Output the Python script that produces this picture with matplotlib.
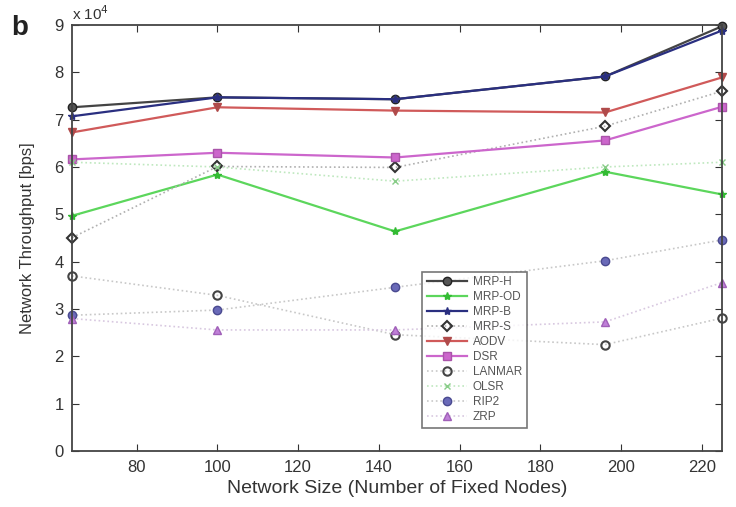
import matplotlib
matplotlib.use("Agg")
import matplotlib.pyplot as plt

plt.rcParams['font.family'] = ['Liberation Sans', 'DejaVu Sans']

nodes = [64, 100, 144, 196, 225]
mrp_h = [7.26, 7.47, 7.43, 7.91, 8.97]
mrp_od = [4.97, 5.84, 4.64, 5.90, 5.42]
mrp_b = [7.07, 7.47, 7.43, 7.91, 8.88]
mrp_s = [4.51, 6.01, 5.99, 6.86, 7.60]
aodv = [6.73, 7.26, 7.19, 7.15, 7.89]
dsr = [6.16, 6.30, 6.20, 6.56, 7.27]
lanmar = [3.70, 3.29, 2.46, 2.25, 2.81]
olsr = [6.10, 6.00, 5.70, 6.00, 6.10]
rip2 = [2.87, 2.98, 3.46, 4.02, 4.46]
zrp = [2.80, 2.56, 2.56, 2.73, 3.56]

labels = ['MRP-H', 'MRP-OD', 'MRP-B', 'MRP-S', 'AODV', 'DSR', 'LANMAR', 'OLSR', 'RIP2', 'ZRP']
xticks = [80, 100, 120, 140, 160, 180, 200, 220]
yticks = list(range(0, 10))

fig = plt.figure(figsize=(7.36, 5.07), dpi=100)
ax = fig.add_axes([0.098, 0.110, 0.883, 0.841])

kw = dict(clip_on=False)
ax.plot(nodes, mrp_h, '-', color='#444444', lw=1.6, marker='o', ms=6, mfc='#555555', mec='#222222', label=labels[0], **kw)
ax.plot(nodes, mrp_od, '-', color='#5cd65c', lw=1.6, marker='*', ms=6, mfc='#33bb33', mec='#33bb33', label=labels[1], **kw)
ax.plot(nodes, mrp_b, '-', color='#2a2f80', lw=1.6, marker='*', ms=6, mfc='#2a2f80', mec='#2a2f80', label=labels[2], **kw)
ax.plot(nodes, mrp_s, ':', color='#b0b0b0', lw=1.2, marker='D', ms=5, mfc='none', mec='#333333', mew=1.5, label=labels[3], **kw)
ax.plot(nodes, aodv, '-', color='#d05a5a', lw=1.6, marker='v', ms=6, mfc='#b04a4a', mec='#b04a4a', label=labels[4], **kw)
ax.plot(nodes, dsr, '-', color='#cc66cc', lw=1.6, marker='s', ms=6, mfc='#cc66cc', mec='#aa55aa', label=labels[5], **kw)
ax.plot(nodes, lanmar, ':', color='#c8c8c8', lw=1.2, marker='o', ms=6, mfc='none', mec='#444444', mew=1.5, label=labels[6], **kw)
ax.plot(nodes, olsr, ':', color='#bfe8bf', lw=1.2, marker='x', ms=5, mfc='#88cc88', mec='#88cc88', label=labels[7], **kw)
ax.plot(nodes, rip2, ':', color='#c8c8c8', lw=1.2, marker='o', ms=6, mfc='#6a6ab8', mec='#4a4a90', label=labels[8], **kw)
ax.plot(nodes, zrp, ':', color='#d8c8e0', lw=1.2, marker='^', ms=6, mfc='#c080d8', mec='#a060b8', label=labels[9], **kw)

ax.set_xlim(64, 225)
ax.set_ylim(0, 9)
ax.set_xticks(xticks)
ax.set_yticks(yticks)
ax.tick_params(direction='in', top=True, right=True, labelsize=12, colors='#333333', length=5, pad=6)
for s in ax.spines.values():
    s.set_color('#444444')
    s.set_linewidth(1.3)

ax.set_xlabel('Network Size (Number of Fixed Nodes)', fontsize=14, color='#333333', labelpad=4)
ax.set_ylabel('Network Throughput [bps]', fontsize=12, color='#333333', labelpad=14)

ax.text(0.0, 1.005, 'x 10$^{4}$', transform=ax.transAxes, fontsize=11, color='#333333', ha='left', va='bottom')
fig.text(0.015, 0.93, 'b', fontsize=20, fontweight='bold', color='#222222')

leg = ax.legend(loc='upper left', bbox_to_anchor=(0.529, 0.435), fontsize=8.5, frameon=True,
                fancybox=False, edgecolor='#555555', handlelength=3.4, labelspacing=0.25,
                borderpad=0.4, handletextpad=0.5)
leg.get_frame().set_linewidth(1.2)
for t in leg.get_texts():
    t.set_color('#555555')

fig.savefig('out.png', dpi=100)
